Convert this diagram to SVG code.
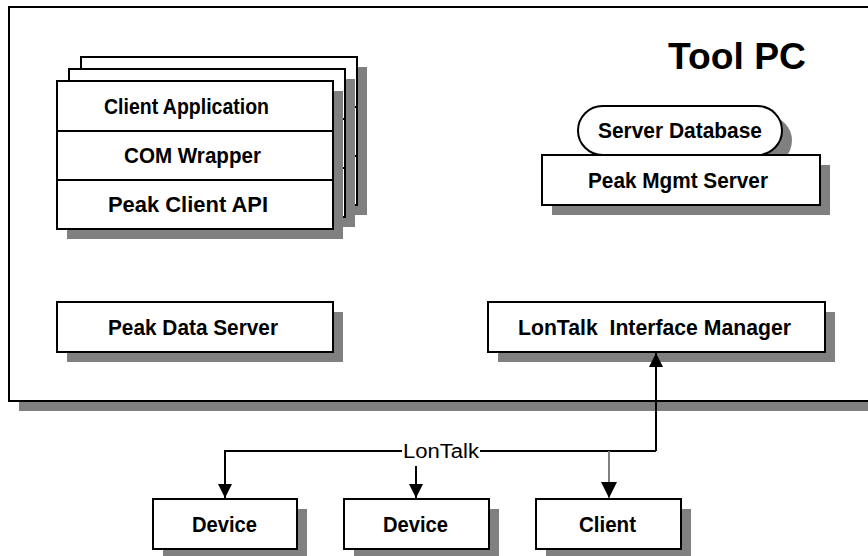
<svg xmlns="http://www.w3.org/2000/svg" width="868" height="556" viewBox="0 0 868 556">
<defs>
<style>
.box{fill:#fff;stroke:#000;stroke-width:2}
.sh{fill:#808080}
.lbl{font-family:"Liberation Sans",Arial,sans-serif;font-weight:bold;font-size:22px;fill:#000;white-space:pre}
.con{fill:none;stroke:#000;stroke-width:2}
</style>
<marker id="ah" viewBox="0 0 14 14" refX="14" refY="7" markerWidth="14" markerHeight="14" markerUnits="userSpaceOnUse" orient="auto">
<path d="M0,0 L14,7 L0,14 Z" fill="#000"/>
</marker>
<marker id="ah2" viewBox="0 0 16 16" refX="16" refY="8" markerWidth="16" markerHeight="16" markerUnits="userSpaceOnUse" orient="auto">
<path d="M0,0 L16,8 L0,16 Z" fill="#000"/>
</marker>
</defs>
<rect width="868" height="556" fill="#fff"/>
<g id="toolpc">
<rect class="sh" x="19" y="17" width="870" height="394"/>
<rect class="box" x="9" y="7" width="870" height="394"/>
<text class="lbl" x="668" y="69" style="font-size:37px" textLength="138" lengthAdjust="spacingAndGlyphs">Tool PC</text>
</g>
<g id="client-stack">
<rect class="sh" x="91" y="67" width="276" height="148"/>
<rect class="box" x="81" y="57" width="276" height="148"/>
<line x1="81" y1="107" x2="357" y2="107" stroke="#000" stroke-width="2"/>
<line x1="81" y1="156" x2="357" y2="156" stroke="#000" stroke-width="2"/>
<rect class="sh" x="79" y="79" width="276" height="148"/>
<rect class="box" x="69" y="69" width="276" height="148"/>
<line x1="69" y1="119" x2="345" y2="119" stroke="#000" stroke-width="2"/>
<line x1="69" y1="168" x2="345" y2="168" stroke="#000" stroke-width="2"/>
<rect class="sh" x="67" y="91" width="276" height="148"/>
<rect class="box" x="57" y="81" width="276" height="148"/>
<line x1="57" y1="131" x2="333" y2="131" stroke="#000" stroke-width="2"/>
<line x1="57" y1="180" x2="333" y2="180" stroke="#000" stroke-width="2"/>
<text class="lbl" x="104" y="114" textLength="165" lengthAdjust="spacingAndGlyphs">Client Application</text>
<text class="lbl" x="124" y="163" textLength="137" lengthAdjust="spacingAndGlyphs">COM Wrapper</text>
<text class="lbl" x="108" y="212" textLength="160" lengthAdjust="spacingAndGlyphs">Peak Client API</text>
</g>
<g id="server-database">
<rect class="sh" x="588" y="116" width="204" height="49" rx="24.5"/>
<rect class="box" x="578" y="106" width="204" height="49" rx="24.5"/>
<text class="lbl" x="598" y="138" textLength="164" lengthAdjust="spacingAndGlyphs">Server Database</text>
</g>
<g id="peak-mgmt-server">
<rect class="sh" x="552" y="165" width="278" height="50"/>
<rect class="box" x="542" y="155" width="278" height="50"/>
<text class="lbl" x="588" y="188" textLength="180" lengthAdjust="spacingAndGlyphs">Peak Mgmt Server</text>
</g>
<g id="peak-data-server">
<rect class="sh" x="67" y="312" width="276" height="50"/>
<rect class="box" x="57" y="302" width="276" height="50"/>
<text class="lbl" x="108" y="335" textLength="170" lengthAdjust="spacingAndGlyphs">Peak Data Server</text>
</g>
<g id="lontalk-interface-manager">
<rect class="sh" x="498" y="312" width="337" height="50"/>
<rect class="box" x="488" y="302" width="337" height="50"/>
<text class="lbl" x="518" y="335" textLength="273" lengthAdjust="spacingAndGlyphs">LonTalk  Interface Manager</text>
</g>
<g id="device1">
<rect class="sh" x="163" y="509" width="144" height="50"/>
<rect class="box" x="153" y="499" width="144" height="50"/>
<text class="lbl" x="192" y="532" textLength="65" lengthAdjust="spacingAndGlyphs">Device</text>
</g>
<g id="device2">
<rect class="sh" x="354" y="509" width="145" height="50"/>
<rect class="box" x="344" y="499" width="145" height="50"/>
<text class="lbl" x="383" y="532" textLength="65" lengthAdjust="spacingAndGlyphs">Device</text>
</g>
<g id="client">
<rect class="sh" x="546" y="509" width="145" height="50"/>
<rect class="box" x="536" y="499" width="145" height="50"/>
<text class="lbl" x="579" y="532" textLength="57" lengthAdjust="spacingAndGlyphs">Client</text>
</g>
<g id="connectors">
<path class="con" d="M656,451 L656,353" marker-end="url(#ah)"/>
<path class="con" d="M656,451 L480,451"/>
<path class="con" d="M402,451 L225,451 L225,498" marker-end="url(#ah)"/>
<path class="con" d="M416,466 L416,498" marker-end="url(#ah)"/>
<path d="M609,451 L609,498" fill="none" stroke="#808080" stroke-width="2" marker-end="url(#ah2)"/>
<text x="403" y="458" font-family="'Liberation Sans',Arial,sans-serif" font-size="20" textLength="76" lengthAdjust="spacingAndGlyphs">LonTalk</text>
</g>
</svg>
